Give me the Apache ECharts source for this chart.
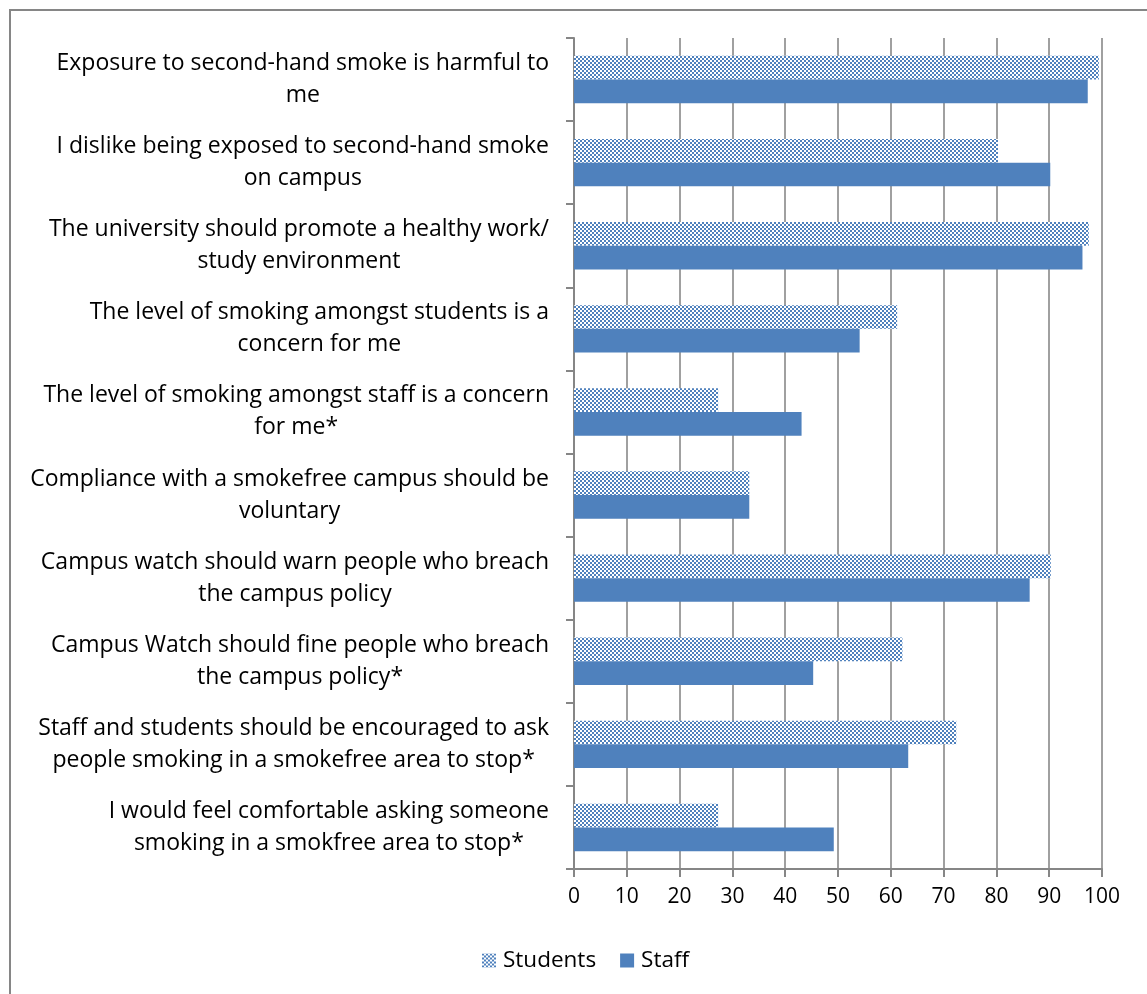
<!DOCTYPE html>
<html>
<head>
<meta charset="utf-8">
<script src="https://cdn.jsdelivr.net/npm/echarts@6/dist/echarts.min.js"></script>
<style>
  html, body { margin: 0; padding: 0; background: #ffffff; }
  #chart { width: 1147px; height: 994px; }
</style>
</head>
<body>
<div id="chart"></div>
<script>
// Survey statements (top to bottom) with their drawn line breaks
const statements = [
  'Exposure to second-hand smoke is harmful to\nme',
  'I dislike being exposed to second-hand smoke\non campus',
  'The university should promote a healthy work/\nstudy environment',
  'The level of smoking amongst students is a\nconcern for me',
  'The level of smoking amongst staff is a concern\nfor me*',
  'Compliance with a smokefree campus should be\nvoluntary',
  'Campus watch should warn people who breach\nthe campus policy',
  'Campus Watch should fine people who breach\nthe campus policy*',
  'Staff and students should be encouraged to ask\npeople smoking in a smokefree area to stop*',
  'I would feel comfortable asking someone\nsmoking in a smokfree area to stop*'
];

// Percentage agreeing, per group
const studentValues = [99.4, 80.3, 97.5, 61.2, 27.3, 33.2, 90.3, 62.2, 72.4, 27.3];
const staffValues   = [97.3, 90.2, 96.3, 54.1, 43.1, 33.2, 86.3, 45.3, 63.3, 49.2];

const seriesNames = ['Students', 'Staff'];

const BLUE = '#4F81BD';
const GRID_GREY = '#868686';
const FONT = 'Open Sans';

// Small checkerboard fill used for the Students bars
function checkerPattern() {
  const c = document.createElement('canvas');
  c.width = 4; c.height = 4;
  const ctx = c.getContext('2d');
  ctx.fillStyle = '#ffffff';
  ctx.fillRect(0, 0, 4, 4);
  ctx.fillStyle = BLUE;
  ctx.fillRect(0, 0, 2, 2);
  ctx.fillRect(2, 2, 2, 2);
  return c;
}

const chart = echarts.init(document.getElementById('chart'), null, { renderer: 'canvas' });

chart.setOption({
  backgroundColor: '#ffffff',
  animation: false,
  textStyle: { fontFamily: FONT, color: '#000000' },
  graphic: [{
    type: 'rect',
    shape: { x: 10, y: 10, width: 1200, height: 1100 },
    style: { fill: 'none', stroke: GRID_GREY, lineWidth: 2 },
    silent: true,
    z: -1
  }],
  grid: { left: 574, right: 45, top: 38, bottom: 125, containLabel: false },
  legend: {
    left: 482,
    top: 949,
    padding: 0,
    itemWidth: 14,
    itemHeight: 14,
    itemGap: 24,
    icon: 'rect',
    textStyle: { fontFamily: FONT, fontSize: 22.5, color: '#000000', padding: [0, 0, 0, 2] },
    data: seriesNames
  },
  xAxis: {
    type: 'value',
    min: 0,
    max: 100,
    interval: 10,
    axisLine: { show: true, lineStyle: { color: GRID_GREY, width: 2 } },
    axisTick: { show: true, length: 8, lineStyle: { color: GRID_GREY, width: 2 } },
    splitLine: { show: true, lineStyle: { color: '#808080', width: 1.5 } },
    axisLabel: { fontFamily: FONT, fontSize: 21, color: '#000000', margin: 18 }
  },
  yAxis: {
    type: 'category',
    inverse: true,
    data: statements,
    axisLine: { show: true, lineStyle: { color: GRID_GREY, width: 2 } },
    axisTick: { show: true, length: 8, lineStyle: { color: GRID_GREY, width: 2 } },
    axisLabel: {
      margin: 25,
      formatter: function (v) {
        return v.split('\n').map(function (l) { return '{c|' + l + '}'; }).join('\n');
      },
      rich: {
        c: { align: 'center', fontFamily: FONT, fontSize: 23, lineHeight: 32, color: '#000000' }
      }
    }
  },
  series: [
    {
      name: seriesNames[0],
      type: 'bar',
      data: studentValues,
      barGap: '0%',
      barCategoryGap: '43%',
      itemStyle: { color: { image: checkerPattern(), repeat: 'repeat' } }
    },
    {
      name: seriesNames[1],
      type: 'bar',
      data: staffValues,
      barGap: '0%',
      barCategoryGap: '43%',
      itemStyle: { color: BLUE }
    }
  ]
});
</script>
</body>
</html>
